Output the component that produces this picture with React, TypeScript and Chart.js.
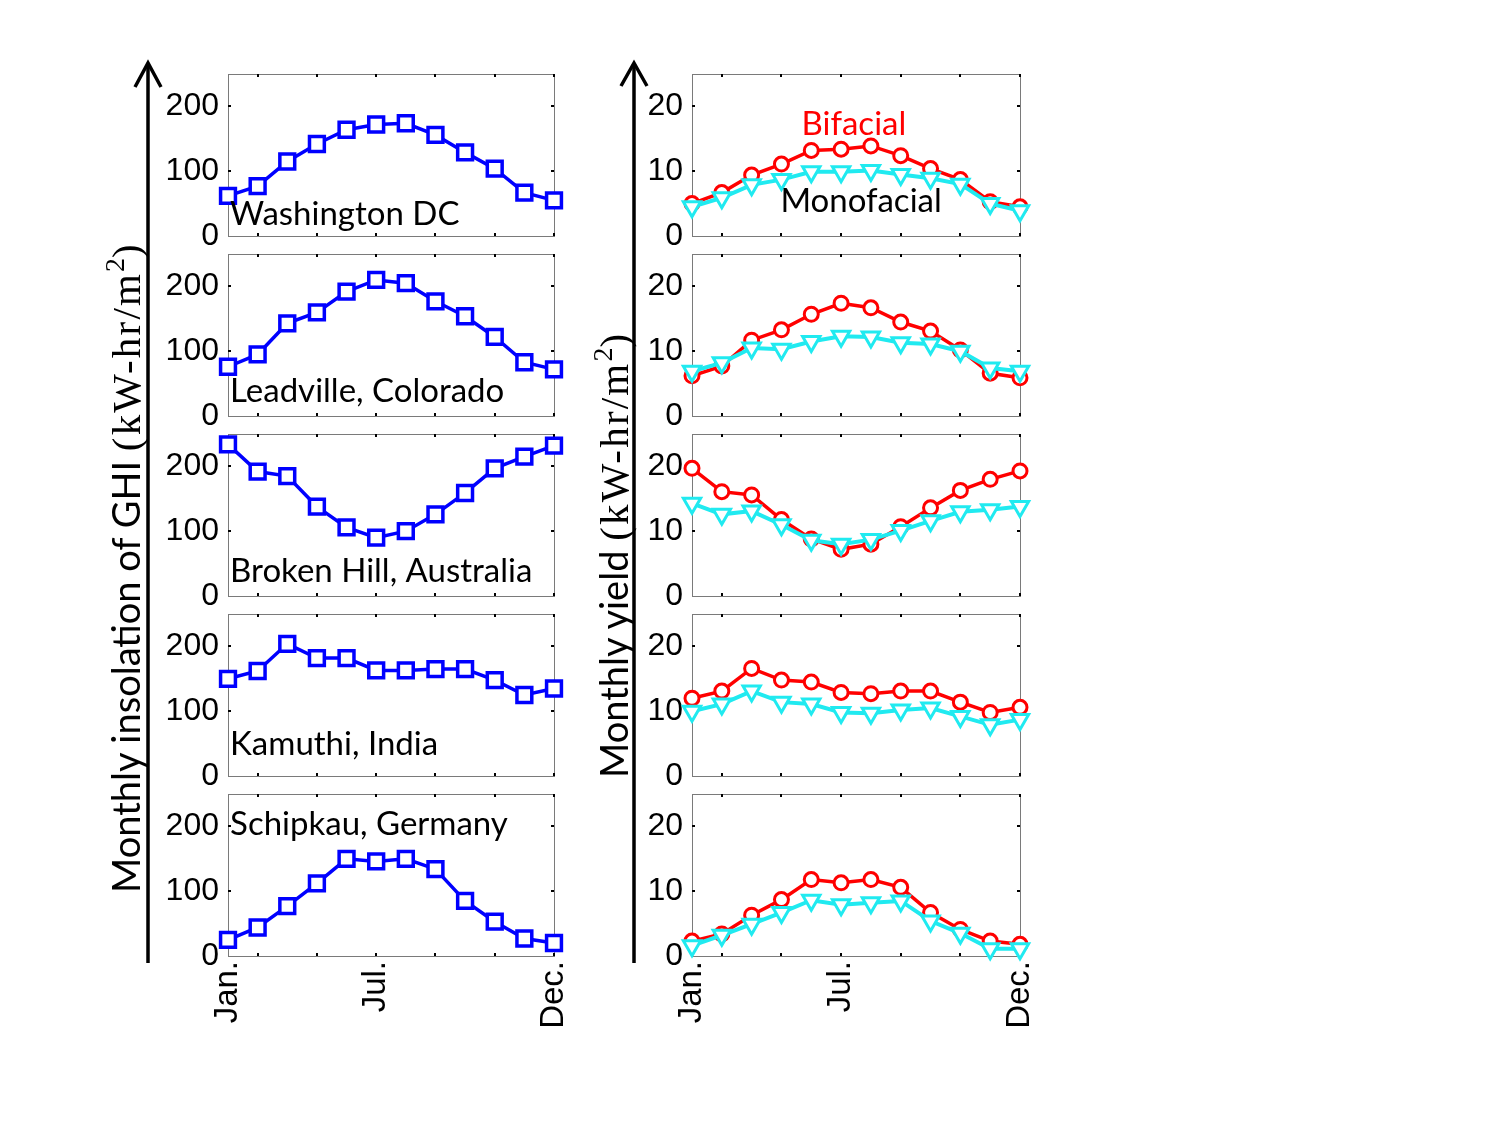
import React, { useEffect, useRef } from 'react';
import { Chart, registerables } from 'chart.js';

Chart.register(...registerables);

// ---- data -------------------------------------------------------------
const months = [1, 2, 3, 4, 5, 6, 7, 8, 9, 10, 11, 12];
const monthTickValues = [1, 6, 12];
const monthTickLabels = ['Jan.', 'Jul.', 'Dec.'];
const monthMinorTicks = [2, 4, 6, 8, 10, 12];

const ghiTicks = [0, 100, 200];
const yieldTicks = [0, 10, 20];

const siteNames = [
  'Washington DC',
  'Leadville, Colorado',
  'Broken Hill, Australia',
  'Kamuthi, India',
  'Schipkau, Germany',
];

// Monthly insolation of GHI (kW-hr/m^2)
const ghiWashington = [62, 77, 115, 142, 164, 172, 174, 156, 129, 104, 67, 55];
const ghiLeadville = [76, 95, 143, 160, 192, 210, 205, 177, 154, 122, 83, 72];
const ghiBrokenHill = [234, 192, 185, 138, 106, 90, 100, 126, 159, 197, 215, 232];
const ghiKamuthi = [150, 162, 204, 182, 182, 163, 163, 165, 165, 148, 125, 135];
const ghiSchipkau = [25, 44, 77, 112, 150, 146, 150, 134, 85, 53, 27, 20];

// Monthly yield (kW-hr/m^2)
const bifacialWashington = [5.0, 6.7, 9.4, 11.1, 13.2, 13.4, 13.9, 12.4, 10.4, 8.7, 5.3, 4.5];
const monofacialWashington = [4.5, 5.9, 7.9, 8.7, 9.9, 9.9, 10.1, 9.5, 8.9, 8.0, 5.0, 3.9];
const bifacialLeadville = [6.2, 7.7, 11.7, 13.3, 15.7, 17.4, 16.7, 14.5, 13.1, 10.2, 6.6, 5.9];
const monofacialLeadville = [6.9, 8.2, 10.5, 10.3, 11.5, 12.3, 12.2, 11.3, 11.1, 10.0, 7.4, 6.9];
const bifacialBrokenHill = [19.7, 16.1, 15.6, 11.8, 8.8, 7.2, 8.0, 10.7, 13.6, 16.3, 18.0, 19.3];
const monofacialBrokenHill = [14.3, 12.6, 13.1, 11.0, 8.6, 8.0, 8.7, 10.1, 11.6, 13.0, 13.3, 13.8];
const bifacialKamuthi = [12.0, 13.1, 16.6, 14.8, 14.5, 12.9, 12.7, 13.1, 13.1, 11.4, 9.8, 10.6];
const monofacialKamuthi = [10.0, 11.1, 13.1, 11.4, 11.1, 9.8, 9.7, 10.2, 10.5, 9.2, 7.9, 8.7];
const bifacialSchipkau = [2.3, 3.4, 6.3, 8.7, 11.8, 11.3, 11.8, 10.6, 6.7, 4.1, 2.3, 1.8];
const monofacialSchipkau = [1.6, 3.2, 4.9, 6.7, 8.6, 7.9, 8.2, 8.5, 5.4, 3.5, 1.1, 1.1];

const ghiSeries = [ghiWashington, ghiLeadville, ghiBrokenHill, ghiKamuthi, ghiSchipkau];
const bifacialSeries = [bifacialWashington, bifacialLeadville, bifacialBrokenHill, bifacialKamuthi, bifacialSchipkau];
const monofacialSeries = [monofacialWashington, monofacialLeadville, monofacialBrokenHill, monofacialKamuthi, monofacialSchipkau];

// ---- layout & style ---------------------------------------------------
const ROW_TOPS = [74, 254, 434, 614, 794];
const FRAME_H = 162;
const COL_LEFT = [228, 692];
const COL_W = [326, 328];
const Y_AXIS_W = 100;
const PAD_TOP = 20;
const PAD_RIGHT = 26;
const PAD_BOTTOM = 22;
const X_AXIS_H = 100;

// where the site names sit, in (month, GHI) coordinates of their panel
const siteLabelX = 1.07;
const siteLabelY = [17, 22, 22, 32, 187];

const TICK_FONT = "'Liberation Sans', Arial, sans-serif";
const TICK_SIZE = 32;
const TEXT_FONT = "Lato, 'Open Sans', sans-serif";
const SERIF_FONT = "'Liberation Serif', 'Times New Roman', serif";

const BLUE = '#0000ff';
const RED = '#ff0000';
const CYAN = '#20eaf0';

type Note = { text: string; x: number; y: number; color: string; align: CanvasTextAlign };

// Gray box round the plot area, small inward ticks, and the text notes.
const panelFrame = {
  id: 'panelFrame',
  beforeDatasetsDraw(chart: any, _args: any, opts: any) {
    const { ctx, chartArea: a, scales } = chart;
    const x = scales.x;
    const y = scales.y;
    ctx.save();
    ctx.strokeStyle = '#7a7a7a';
    ctx.lineWidth = 1;
    ctx.strokeRect(Math.round(a.left) + 0.5, Math.round(a.top) + 0.5, Math.round(a.right - a.left), Math.round(a.bottom - a.top));
    ctx.strokeStyle = '#000';
    ctx.lineWidth = 2;
    const len = 3;
    ctx.beginPath();
    for (const v of opts.xMinor as number[]) {
      const px = Math.round(x.getPixelForValue(v));
      ctx.moveTo(px, a.top);
      ctx.lineTo(px, a.top + len);
      ctx.moveTo(px, a.bottom);
      ctx.lineTo(px, a.bottom - len);
    }
    for (const v of opts.yMinor as number[]) {
      const py = Math.round(y.getPixelForValue(v));
      ctx.moveTo(a.left, py);
      ctx.lineTo(a.left + len, py);
      ctx.moveTo(a.right, py);
      ctx.lineTo(a.right - len, py);
    }
    ctx.stroke();
    ctx.restore();
  },
  afterDatasetsDraw(chart: any, _args: any, opts: any) {
    const { ctx, scales } = chart;
    ctx.save();
    ctx.font = `33px ${TEXT_FONT}`;
    ctx.textBaseline = 'alphabetic';
    for (const n of (opts.notes || []) as Note[]) {
      ctx.fillStyle = n.color;
      ctx.textAlign = n.align;
      ctx.fillText(n.text, scales.x.getPixelForValue(n.x), scales.y.getPixelForValue(n.y));
    }
    ctx.restore();
  },
};

function buildConfig(col: number, row: number): any {
  const isBottom = row === ROW_TOPS.length - 1;
  const isGhi = col === 0;
  const yMax = isGhi ? 250 : 25;
  const yTicks = isGhi ? ghiTicks : yieldTicks;

  const datasets: any[] = isGhi
    ? [
        {
          data: months.map((m, i) => ({ x: m, y: ghiSeries[row][i] })),
          borderColor: BLUE,
          borderWidth: 3.5,
          pointStyle: 'rect',
          pointRadius: 10.5,
          pointBorderWidth: 3.5,
          pointBorderColor: BLUE,
          pointBackgroundColor: '#ffffff',
          clip: false,
        },
      ]
    : [
        {
          data: months.map((m, i) => ({ x: m, y: bifacialSeries[row][i] })),
          borderColor: RED,
          borderWidth: 3.5,
          pointStyle: 'circle',
          pointRadius: 7,
          pointBorderWidth: 3,
          pointBorderColor: RED,
          pointBackgroundColor: '#ffffff',
          order: 2,
          clip: false,
        },
        {
          data: months.map((m, i) => ({ x: m, y: monofacialSeries[row][i] })),
          borderColor: CYAN,
          borderWidth: 4,
          pointStyle: 'triangle',
          pointRotation: 180,
          pointRadius: 10,
          pointBorderWidth: 3,
          pointBorderColor: CYAN,
          pointBackgroundColor: '#ffffff',
          order: 1,
          clip: false,
        },
      ];

  const notes: Note[] = [];
  if (isGhi) {
    notes.push({ text: siteNames[row], x: siteLabelX, y: siteLabelY[row], color: '#000', align: 'left' });
  } else if (row === 0) {
    notes.push({ text: 'Bifacial', x: 6.43, y: 15.6, color: RED, align: 'center' });
    notes.push({ text: 'Monofacial', x: 6.67, y: 3.75, color: '#000', align: 'center' });
  }

  return {
    type: 'line',
    data: { datasets },
    options: {
      responsive: false,
      animation: false,
      events: [],
      layout: {
        autoPadding: false,
        padding: { top: PAD_TOP, right: PAD_RIGHT, bottom: isBottom ? 0 : PAD_BOTTOM, left: 0 },
      },
      elements: { line: { tension: 0 } },
      plugins: {
        legend: { display: false },
        tooltip: { enabled: false },
        panelFrame: { xMinor: monthMinorTicks, yMinor: yTicks.slice(1), notes },
      },
      scales: {
        x: {
          type: 'linear',
          min: 1,
          max: 12,
          grid: { display: false, drawTicks: false },
          border: { display: false },
          afterBuildTicks: (s: any) => {
            s.ticks = monthTickValues.map((v) => ({ value: v }));
          },
          afterFit: (s: any) => {
            s.height = isBottom ? X_AXIS_H : 0;
            s.paddingLeft = 0;
            s.paddingRight = 0;
            s.paddingTop = 0;
            s.paddingBottom = 0;
          },
          ticks: {
            display: isBottom,
            autoSkip: false,
            minRotation: 90,
            maxRotation: 90,
            padding: 5,
            color: '#000',
            font: { family: TICK_FONT, size: TICK_SIZE + 1 },
            callback: (v: any) => {
              const k = monthTickValues.indexOf(Number(v));
              return k >= 0 ? monthTickLabels[k] : '';
            },
          },
        },
        y: {
          type: 'linear',
          min: 0,
          max: yMax,
          grid: { display: false, drawTicks: false },
          border: { display: false },
          afterBuildTicks: (s: any) => {
            s.ticks = yTicks.map((v) => ({ value: v }));
          },
          afterFit: (s: any) => {
            s.width = Y_AXIS_W;
            s.paddingLeft = 0;
            s.paddingRight = 0;
            s.paddingTop = 0;
            s.paddingBottom = 0;
          },
          ticks: {
            autoSkip: false,
            padding: 9,
            color: '#000',
            font: { family: TICK_FONT, size: TICK_SIZE },
            callback: (v: any) => String(v),
          },
        },
      },
    },
    plugins: [panelFrame],
  };
}

function Panel({ col, row }: { col: number; row: number }) {
  const ref = useRef<HTMLCanvasElement | null>(null);
  const isBottom = row === ROW_TOPS.length - 1;
  const width = Y_AXIS_W + COL_W[col] + PAD_RIGHT;
  const height = PAD_TOP + FRAME_H + (isBottom ? X_AXIS_H : PAD_BOTTOM);
  const left = COL_LEFT[col] - Y_AXIS_W;
  const top = ROW_TOPS[row] - PAD_TOP;

  useEffect(() => {
    if (!ref.current) return;
    const chart = new Chart(ref.current, buildConfig(col, row));
    return () => chart.destroy();
  }, [col, row]);

  return (
    <canvas
      ref={ref}
      width={width}
      height={height}
      style={{ position: 'absolute', left, top, width, height }}
    />
  );
}

// Rotated axis title: sans part, then the serif unit with a superscript 2.
function AxisTitle({ x, y, label }: { x: number; y: number; label: string }) {
  return (
    <text transform={`translate(${x},${y}) rotate(-90)`} fill="#000">
      <tspan fontFamily={TEXT_FONT} fontSize={38}>{label} </tspan>
      <tspan fontFamily={SERIF_FONT} fontSize={41} letterSpacing={2.2}>(kW-hr/m</tspan>
      <tspan fontFamily={SERIF_FONT} fontSize={28} dy={-16}>2</tspan>
      <tspan fontFamily={SERIF_FONT} fontSize={41} dy={16}>)</tspan>
    </text>
  );
}

function AxisDecor() {
  return (
    <svg
      width={1500}
      height={1125}
      style={{ position: 'absolute', left: 0, top: 0, pointerEvents: 'none' }}
    >
      <g stroke="#000" strokeWidth={3.5} fill="none">
        <line x1={148} y1={963} x2={148} y2={64} />
        <polyline points="135,87 148,63 161,87" strokeLinejoin="miter" />
        <line x1={634} y1={963} x2={634} y2={64} />
        <polyline points="621,86 634,63 647,86" strokeLinejoin="miter" />
      </g>
      <AxisTitle x={140} y={893} label="Monthly insolation of GHI" />
      <AxisTitle x={628} y={778} label="Monthly yield" />
    </svg>
  );
}

export default function App() {
  const panels: { col: number; row: number }[] = [];
  for (let row = 0; row < ROW_TOPS.length; row++) {
    for (let col = 0; col < 2; col++) panels.push({ col, row });
  }
  return (
    <div style={{ position: 'absolute', left: 0, top: 0, width: 1500, height: 1125, background: '#fff' }}>
      {panels.map((p) => (
        <Panel key={`${p.col}-${p.row}`} col={p.col} row={p.row} />
      ))}
      <AxisDecor />
    </div>
  );
}
